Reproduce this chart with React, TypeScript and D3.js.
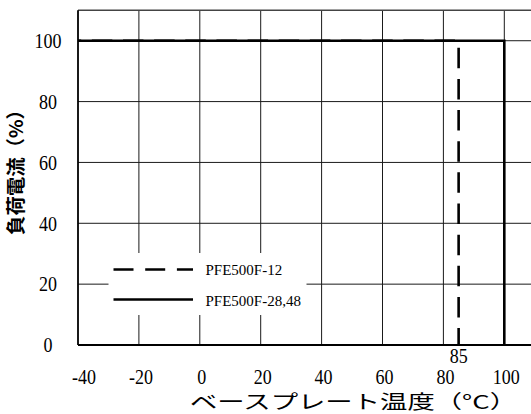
import React from "react";
import * as d3 from "d3";

// ---- data ----
const xTickValues = [-40, -20, 0, 20, 40, 60, 80, 100];
const yTickValues = [0, 20, 40, 60, 80, 100];
const seriesNames = ["PFE500F-12", "PFE500F-28,48"];
const temp12 = [-40, 85, 85];
const load12 = [100, 100, 0];
const temp2848 = [-40, 100, 100];
const load2848 = [100, 100, 0];
const markedTemp = 85;
const xTitle = "ベースプレート温度（°C）";
const yTitle = "負荷電流（%）";

const W = 531;
const H = 414;
const serif = "Liberation Serif";
const sans = "Noto Sans CJK JP";

export default function App() {
  const x = d3.scaleLinear().domain([-40, 110]).range([78, 534.75]);
  const y = d3.scaleLinear().domain([0, 110]).range([345, 10.3]);
  const line = d3
    .line<[number, number]>()
    .x((d) => x(d[0]))
    .y((d) => y(d[1]));

  const s12: [number, number][] = temp12.map((t, i) => [t, load12[i]]);
  const s2848: [number, number][] = temp2848.map((t, i) => [t, load2848[i]]);

  const dash = 20.5;
  const gap = 10.65;
  const period = dash + gap;
  const cornerLen = x(85) - x(-40);
  const dashOffset = period - ((cornerLen + 7) % period);

  const gridColor = "#1a1a1a";
  const stretch = 1.2;
  const serifStyle = { fontFamily: serif };
  const sansStyle = { fontFamily: sans };

  return (
    <svg
      width={W}
      height={H}
      style={{ position: "absolute", left: 0, top: 0, background: "#fff" }}
    >
      <rect x={0} y={0} width={W} height={H} fill="#fff" />
      {/* vertical grid */}
      {xTickValues.slice(1).map((t) => (
        <line
          key={"vx" + t}
          x1={x(t)}
          x2={x(t)}
          y1={y(110)}
          y2={y(0)}
          stroke={gridColor}
          strokeWidth={1}
        />
      ))}
      {/* horizontal grid */}
      {yTickValues.slice(1).map((v) => (
        <line
          key={"hy" + v}
          x1={x(-40)}
          x2={W}
          y1={y(v)}
          y2={y(v)}
          stroke={gridColor}
          strokeWidth={1}
        />
      ))}
      {/* top border */}
      <line x1={x(-40)} x2={W} y1={y(110)} y2={y(110)} stroke="#444" strokeWidth={1.6} />
      {/* left border */}
      <line x1={x(-40)} x2={x(-40)} y1={y(110)} y2={y(0)} stroke="#000" strokeWidth={1.8} />

      {/* legend background */}
      <rect x={108.5} y={253} width={198} height={62} fill="#fff" />

      {/* series */}
      <path
        d={line(s12) || ""}
        fill="none"
        stroke="#000"
        strokeWidth={2.6}
        strokeDasharray={`${dash} ${gap}`}
        strokeDashoffset={dashOffset}
      />
      <path d={line(s2848) || ""} fill="none" stroke="#000" strokeWidth={2.6} />

      {/* bottom axis */}
      <line x1={x(-40)} x2={W} y1={y(0)} y2={y(0)} stroke="#000" strokeWidth={2} />

      {/* legend */}
      <line x1={113.5} x2={193} y1={269.5} y2={269.5} stroke="#000" strokeWidth={2.6} strokeDasharray="20 11.7" />
      <line x1={113.5} x2={193} y1={299.5} y2={299.5} stroke="#000" strokeWidth={2.6} />
      <text x={205.5} y={275} style={serifStyle} fontSize={15} fill="#000">
        {seriesNames[0]}
      </text>
      <text x={205.5} y={305.5} style={serifStyle} fontSize={15} fill="#000">
        {seriesNames[1]}
      </text>

      {/* y tick labels */}
      {yTickValues.map((v) => (
        <text
          key={"yl" + v}
          transform={`translate(48, ${y(v)}) scale(1, ${stretch})`}
          y={6}
          textAnchor="middle"
          style={serifStyle}
          fontSize={18}
          fill="#000"
        >
          {v}
        </text>
      ))}
      {/* x tick labels */}
      {xTickValues.map((t) => (
        <text
          key={"xl" + t}
          transform={`translate(${x(t) + (t === -40 ? 6 : 2)}, 384) scale(1, ${stretch})`}
          textAnchor="middle"
          style={serifStyle}
          fontSize={18}
          fill="#000"
        >
          {t}
        </text>
      ))}
      <text
        transform={`translate(${x(markedTemp)}, 363.3) scale(1, ${stretch})`}
        textAnchor="middle"
        style={serifStyle}
        fontSize={18}
        fill="#000"
      >
        {markedTemp}
      </text>

      {/* axis titles */}
      <text
        x={190}
        y={409}
        style={sansStyle}
        fontSize={19}
        textLength={327}
        lengthAdjust="spacingAndGlyphs"
        fill="#000"
      >
        {xTitle}
      </text>
      <text
        transform={`translate(23, 235) rotate(-90)`}
        style={sansStyle}
        fontSize={19}
        fontWeight="bold"
        textLength={135}
        lengthAdjust="spacingAndGlyphs"
        fill="#000"
      >
        {yTitle}
      </text>
    </svg>
  );
}
